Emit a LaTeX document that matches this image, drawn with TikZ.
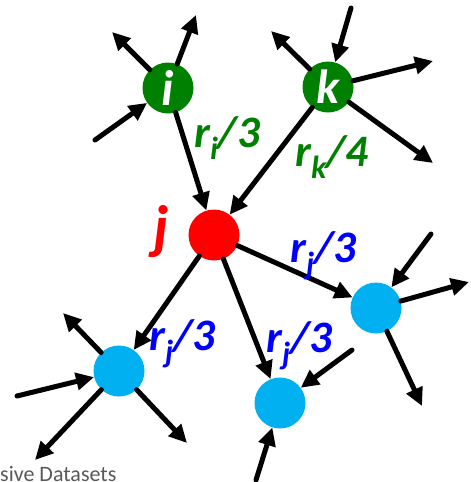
\documentclass[tikz,border=0pt]{standalone}
\usepackage{fontspec}
\setmainfont{Carlito}
\usetikzlibrary{arrows.meta}
\definecolor{gnode}{RGB}{0,128,0}
\definecolor{bnode}{RGB}{0,176,240}
\definecolor{lblue}{RGB}{0,0,255}
\definecolor{rnode}{RGB}{255,0,0}
\newcommand\subtx[1]{\raisebox{-0.28em}{\fontsize{32}{32}\selectfont #1}}
\begin{document}
\begin{tikzpicture}[x=1pt,y=-1pt,
  vtx/.style={circle,minimum size=51pt,inner sep=0pt},
  arr/.style={line width=5pt,line cap=round,-{Triangle[length=18pt,width=17pt]}},
  lbl/.style={anchor=base west,inner sep=0pt,font=\fontsize{45}{45}\selectfont\bfseries\itshape}]
\useasboundingbox (0,0) rectangle (471,482);
% nodes
\node[vtx,fill=gnode,text=white,font=\fontsize{50}{50}\selectfont\bfseries\itshape] (i) at (168,88) {i};
\node[vtx,fill=gnode,text=white,font=\fontsize{48}{48}\selectfont\bfseries\itshape] (k) at (328,87) {k};
\node[vtx,fill=rnode] (j) at (214,235) {};
\node[vtx,fill=bnode] (b1) at (376,308) {};
\node[vtx,fill=bnode] (b2) at (280,403) {};
\node[vtx,fill=bnode] (b3) at (119,371) {};
% free ends
\coordinate (ia) at (95,140);
\coordinate (ib) at (112,32);
\coordinate (ic) at (196,15);
\coordinate (ka) at (351,8);
\coordinate (kb) at (271,31);
\coordinate (kc) at (433,61);
\coordinate (kd) at (433,163);
\coordinate (b1a) at (431,234);
\coordinate (b1b) at (469,282);
\coordinate (b1c) at (422,406);
\coordinate (b2a) at (352,350);
\coordinate (b2b) at (256,480);
\coordinate (b3a) at (63,313);
\coordinate (b3b) at (17,396);
\coordinate (b3c) at (35,460);
\coordinate (b3d) at (187,443);
% connectors
\draw[arr] (ia) -- (i);
\draw[arr] (i) -- (ib);
\draw[arr] (i) -- (ic);
\draw[arr] (i) -- (j);
\draw[arr] (ka) -- (k);
\draw[arr] (k) -- (kb);
\draw[arr] (k) -- (kc);
\draw[arr] (k) -- (kd);
\draw[arr] (k) -- (j);
\draw[arr] (j) -- (b1);
\draw[arr] (j) -- (b2);
\draw[arr] (j) -- (b3);
\draw[arr] (b1a) -- (b1);
\draw[arr] (b1) -- (b1b);
\draw[arr] (b1) -- (b1c);
\draw[arr] (b2a) -- (b2);
\draw[arr] (b2b) -- (b2);
\draw[arr] (b3) -- (b3a);
\draw[arr] (b3b) -- (b3);
\draw[arr] (b3) -- (b3c);
\draw[arr] (b3) -- (b3d);
% labels
\node[lbl,text=gnode] (li) at (194,147) {r\subtx{i}/3};
\node[lbl,text=gnode] (lk) at (295,166) {r\subtx{k}/4};
\node[lbl,text=rnode,font=\fontsize{60}{60}\selectfont\bfseries\itshape] (lj) at (153,247) {j};
\node[lbl,text=lblue] (l1) at (290,262) {r\subtx{j}/3};
\node[lbl,text=lblue] (l2) at (266,352) {r\subtx{j}/3};
\node[lbl,text=lblue] (l3) at (149,350) {r\subtx{j}/3};
\node[anchor=base west,inner sep=0pt,text=black!65,font=\fontsize{22}{22}\selectfont] (ds) at (0,481) {sive Datasets};
\end{tikzpicture}
\end{document}
